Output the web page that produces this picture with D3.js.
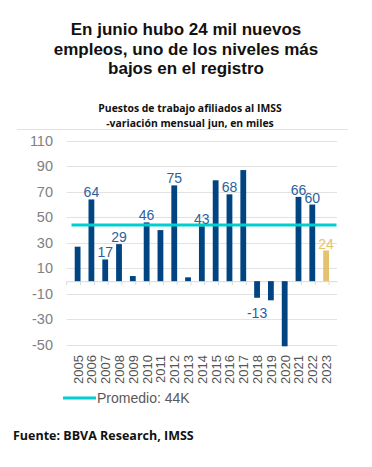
<!DOCTYPE html>
<html>
<head>
<meta charset="utf-8">
<script src="https://cdn.jsdelivr.net/npm/d3@7"></script>
<style>
  body { margin: 0; background: #fff; }
  svg { display: block; }
</style>
</head>
<body>
<div id="chart"></div>
<script>
// datos: puestos de trabajo afiliados al IMSS, variación mensual de junio (miles)
const years = ["2005","2006","2007","2008","2009","2010","2011","2012","2013","2014",
               "2015","2016","2017","2018","2019","2020","2021","2022","2023"];
const values = [27, 64, 17, 29, 4, 46, 40, 75, 3, 43, 79, 68, 87, -13, -15, -51, 66, 60, 24];
const labelled = ["2006","2007","2008","2010","2012","2014","2016","2018","2021","2022","2023"];
const yTicks = [110, 90, 70, 50, 30, 10, -10, -30, -50];
const average = 44;
const titleLines = ["En junio hubo 24 mil nuevos", "empleos, uno de los niveles más", "bajos en el registro"];
const subtitleLines = ["Puestos de trabajo afiliados al IMSS", "-variación mensual jun, en miles"];
const legendText = "Promedio: 44K";
const source = "Fuente: BBVA Research, IMSS";

const width = 372, height = 467;
const navy = "#004481", gold = "#E3C270", cyan = "#00CFCF", labelBlue = "#2C5F9E";

const svg = d3.select("#chart").append("svg")
    .attr("width", width)
    .attr("height", height);

// titulo
svg.append("g").selectAll("text")
    .data(titleLines)
    .join("text")
    .attr("x", 186)
    .attr("y", (d, i) => 35 + i * 19.5)
    .attr("text-anchor", "middle")
    .attr("font-family", "Liberation Sans, Arial, sans-serif")
    .attr("font-weight", "bold")
    .attr("font-size", 17)
    .attr("fill", "#111")
    .text(d => d);

svg.append("g").selectAll("text")
    .data(subtitleLines)
    .join("text")
    .attr("x", 190)
    .attr("y", (d, i) => 112 + i * 14.5)
    .attr("text-anchor", "middle")
    .attr("font-family", "Open Sans, sans-serif")
    .attr("font-weight", "bold")
    .attr("font-size", 10.4)
    .attr("fill", "#111")
    .text(d => d);

svg.append("line")
    .attr("x1", 17).attr("x2", 348)
    .attr("y1", 129.5).attr("y2", 129.5)
    .attr("stroke", "#e3e3e3");

// escalas
const x = d3.scaleBand().domain(years).range([66.7, 337]).padding(0.58);
const y = d3.scaleLinear().domain([-50, 110]).range([345, 140.7]);

// rejilla
svg.append("g").selectAll("line")
    .data(yTicks)
    .join("line")
    .attr("x1", 66.7).attr("x2", 337)
    .attr("y1", d => Math.round(y(d)) + 0.5)
    .attr("y2", d => Math.round(y(d)) + 0.5)
    .attr("stroke", "#e2e2e2");

svg.append("g").selectAll("text")
    .data(yTicks)
    .join("text")
    .attr("x", 53)
    .attr("y", d => y(d) + 5)
    .attr("text-anchor", "end")
    .attr("font-family", "Liberation Sans, Arial, sans-serif")
    .attr("font-size", 14.5)
    .attr("fill", "#808080")
    .text(d => d);

// eje cero con marcas
const zeroAxis = svg.append("g")
    .attr("transform", `translate(0,${y(0)})`)
    .call(d3.axisBottom(x).tickSize(0).tickFormat(""));
zeroAxis.select(".domain").attr("stroke", "#d9d9d9");
zeroAxis.append("g").selectAll("line")
    .data(years.concat("end"))
    .join("line")
    .attr("x1", (d, i) => 66.7 + i * x.step())
    .attr("x2", (d, i) => 66.7 + i * x.step())
    .attr("y1", 0).attr("y2", 4)
    .attr("stroke", "#d9d9d9");

// barras
svg.append("g").selectAll("rect")
    .data(years)
    .join("rect")
    .attr("x", d => x(d))
    .attr("width", x.bandwidth())
    .attr("y", (d, i) => y(Math.max(0, values[i])))
    .attr("height", (d, i) => Math.abs(y(values[i]) - y(0)))
    .attr("fill", d => d === "2023" ? gold : navy);

// promedio
svg.append("line")
    .attr("x1", 71.5).attr("x2", 336.5)
    .attr("y1", y(average)).attr("y2", y(average))
    .attr("stroke", cyan)
    .attr("stroke-width", 3);

// etiquetas de valores
svg.append("g").selectAll("text")
    .data(years.filter(d => labelled.includes(d)))
    .join("text")
    .attr("x", d => x(d) + x.bandwidth() / 2)
    .attr("y", d => {
        const v = values[years.indexOf(d)];
        return v < 0 ? y(v) + 20 : y(v) - 2;
    })
    .attr("text-anchor", "middle")
    .attr("font-family", "Liberation Sans, Arial, sans-serif")
    .attr("font-size", 14)
    .attr("fill", d => d === "2023" ? gold : labelBlue)
    .text(d => values[years.indexOf(d)]);

// etiquetas del eje x
svg.append("g").selectAll("text")
    .data(years)
    .join("text")
    .attr("transform", d => `translate(${x(d) + x.bandwidth() / 2 + 5},355) rotate(-90)`)
    .attr("text-anchor", "end")
    .attr("font-family", "Liberation Sans, Arial, sans-serif")
    .attr("font-size", 13)
    .attr("fill", "#555")
    .text(d => d);

// leyenda
svg.append("line")
    .attr("x1", 63).attr("x2", 96)
    .attr("y1", 398).attr("y2", 398)
    .attr("stroke", cyan)
    .attr("stroke-width", 3);
svg.append("text")
    .attr("x", 97)
    .attr("y", 403)
    .attr("font-family", "Liberation Sans, Arial, sans-serif")
    .attr("font-size", 14)
    .attr("fill", "#595959")
    .text(legendText);

// fuente
svg.append("text")
    .attr("x", 13)
    .attr("y", 440)
    .attr("font-family", "Open Sans, sans-serif")
    .attr("font-weight", "bold")
    .attr("font-size", 12.5)
    .attr("fill", "#111")
    .text(source);
</script>
</body>
</html>
